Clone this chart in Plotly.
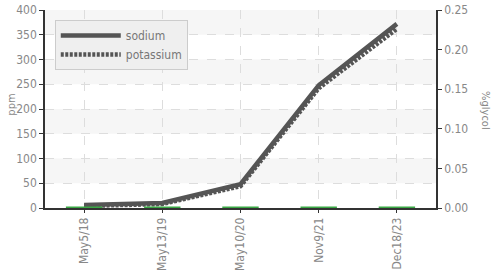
import plotly.graph_objects as go

categories = ["May5/18", "May13/19", "May10/20", "Nov9/21", "Dec18/23"]
sodium = [6, 10, 48, 248, 372]
potassium = [4, 8, 44, 242, 362]
glycol = [0, 0, 0, 0, 0]
ppm_ticks = [0, 50, 100, 150, 200, 250, 300, 350, 400]
glycol_ticks = [0, 0.05, 0.10, 0.15, 0.20, 0.25]

FONT = "DejaVu Sans Condensed, Liberation Sans Narrow, Roboto, sans-serif"
TICK_COLOR = "#888"

fig = go.Figure()
fig.add_trace(go.Scatter(x=categories, y=sodium, name="sodium", mode="lines",
                         line=dict(color="#555", width=4.5)))
fig.add_trace(go.Scatter(x=categories, y=potassium, name="potassium", mode="lines",
                         line=dict(color="#555", width=4.5, dash="3px,1.5px")))
fig.add_trace(go.Scatter(x=categories, y=glycol, name="glycol", mode="markers", yaxis="y2",
                         showlegend=False, cliponaxis=False,
                         marker=dict(symbol="line-ew", size=26,
                                     line=dict(color="#3aa845", width=3))))

# alternating background bands
shapes = []
for i in range(len(ppm_ticks) - 1):
    if i % 2 == 1:
        shapes.append(dict(type="rect", xref="paper", yref="y", x0=0, x1=1,
                           y0=ppm_ticks[i], y1=ppm_ticks[i + 1],
                           fillcolor="#f6f6f6", line=dict(width=0), layer="below"))

fig.update_layout(
    width=499, height=273,
    margin=dict(l=45, r=63, t=10, b=65),
    paper_bgcolor="white", plot_bgcolor="white",
    font=dict(family=FONT, size=12, color=TICK_COLOR),
    shapes=shapes,
    showlegend=True,
    legend=dict(x=0.025, y=0.95, xanchor="left", yanchor="top",
                bgcolor="#efefef", bordercolor="#ccc", borderwidth=1,
                font=dict(family=FONT, size=12, color="#777"),
                tracegroupgap=0, itemwidth=60),
    xaxis=dict(type="category", range=[-0.5, 4.5], tickangle=-90, automargin=False,
               showgrid=True, gridcolor="#ddd", griddash="dash", gridwidth=1,
               showline=True, linecolor="#333", linewidth=1.5,
               ticks="outside", ticklen=3, tickcolor="#333",
               tickfont=dict(family=FONT, size=12, color=TICK_COLOR)),
    yaxis=dict(range=[0, 400], tickvals=ppm_ticks, automargin=False,
               showgrid=True, gridcolor="#ddd", griddash="dash", gridwidth=1,
               zeroline=False,
               showline=True, linecolor="#333", linewidth=1.5,
               ticks="outside", ticklen=4, tickcolor="#333",
               tickfont=dict(family=FONT, size=12, color=TICK_COLOR)),
    yaxis2=dict(range=[0, 0.25], tickvals=glycol_ticks, tickformat=".2f", automargin=False,
                overlaying="y", side="right", showgrid=False, zeroline=False,
                showline=True, linecolor="#333", linewidth=1.5,
                ticks="outside", ticklen=4, tickcolor="#333",
                tickfont=dict(family=FONT, size=12, color=TICK_COLOR)),
    annotations=[
        dict(text="ppm", textangle=-90, xref="paper", yref="paper",
             x=-0.088, y=0.52, showarrow=False, xanchor="center", yanchor="middle",
             font=dict(family=FONT, size=11, color=TICK_COLOR)),
        dict(text="%glycol", textangle=90, xref="paper", yref="paper",
             x=1.125, y=0.49, showarrow=False, xanchor="center", yanchor="middle",
             font=dict(family=FONT, size=11, color=TICK_COLOR)),
    ],
)

fig.write_html("out.html", config={"displayModeBar": False},
               post_script="document.body.style.margin='0';")
